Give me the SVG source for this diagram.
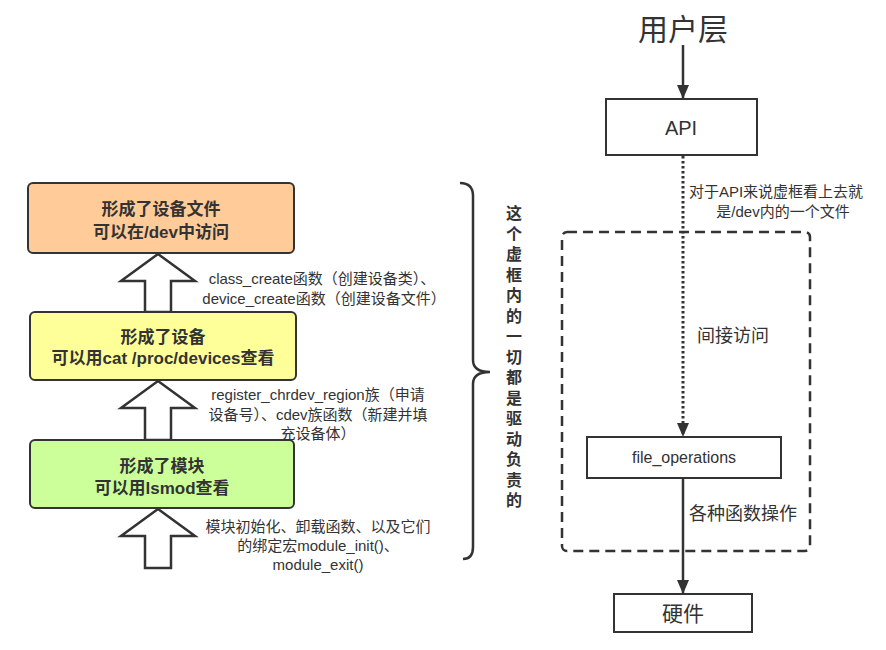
<svg xmlns="http://www.w3.org/2000/svg" width="886" height="650" viewBox="0 0 886 650">
<style>
text{font-family:"Liberation Sans","Noto Sans CJK SC",sans-serif;fill:#333}
.bt{font-size:17px;font-weight:bold;text-anchor:middle}
.lb{font-size:15px;text-anchor:middle}
.node{stroke:#333;stroke-width:2}
.bar{fill:#fff;stroke:#333;stroke-width:2.5;stroke-linejoin:miter}
.rn{fill:#fff;stroke:#333;stroke-width:2}
.vt{font-size:16px;font-weight:bold;text-anchor:middle}
</style>
<defs>
<marker id="ah" markerWidth="14" markerHeight="12" refX="14" refY="6" orient="auto" markerUnits="userSpaceOnUse" viewBox="0 0 14 12">
<path d="M0,0 L14,6 L0,12 Z" fill="#333"/>
</marker>
</defs>
<rect width="886" height="650" fill="#fff"/>

<g id="connectors">
<polygon class="bar" points="158,254 195,281 171,281 171,312 145,312 145,281 121,281"/>
<polygon class="bar" points="158,381 195,408 171,408 171,440 145,440 145,408 121,408"/>
<polygon class="bar" points="158,509 195,536 171,536 171,568 145,568 145,536 121,536"/>
<path d="M460,183 Q473,183 473,196 L473,360 Q473,372 490,372 Q473,372 473,384 L473,547 Q473,559 463,559" fill="none" stroke="#333" stroke-width="2.5"/>
<line x1="683" y1="45" x2="683" y2="99" stroke="#333" stroke-width="2.5" marker-end="url(#ah)"/>
<line x1="683" y1="156" x2="683" y2="437" stroke="#333" stroke-width="3" stroke-dasharray="2.5,2.5" marker-end="url(#ah)"/>
<line x1="683" y1="479" x2="683" y2="594" stroke="#333" stroke-width="2.5" marker-end="url(#ah)"/>
<rect x="562" y="232" width="248" height="319" rx="5" fill="none" stroke="#333" stroke-width="2.5" stroke-dasharray="10,6"/>
</g>

<g id="labels">
<text class="lb" x="322" y="284">class_create函数（创建设备类）、</text>
<text class="lb" x="324" y="304">device_create函数（创建设备文件）</text>
<text class="lb" x="318" y="400">register_chrdev_region族（申请</text>
<text class="lb" x="318" y="420">设备号）、cdev族函数（新建并填</text>
<text class="lb" x="318" y="439">充设备体）</text>
<text class="lb" x="318" y="532">模块初始化、卸载函数、以及它们</text>
<text class="lb" x="318" y="551">的绑定宏module_init()、</text>
<text class="lb" x="318" y="570">module_exit()</text>
<text class="lb" x="776" y="197">对于API来说虚框看上去就</text>
<text class="lb" x="783" y="217">是/dev内的一个文件</text>
<text x="697" y="342" style="font-size:18px">间接访问</text>
<text x="689" y="520" style="font-size:18px">各种函数操作</text>
</g>

<g id="driver-note">
<text class="vt" x="514" y="219">这</text>
<text class="vt" x="514" y="240">个</text>
<text class="vt" x="514" y="260">虚</text>
<text class="vt" x="514" y="281">框</text>
<text class="vt" x="514" y="301">内</text>
<text class="vt" x="514" y="322">的</text>
<text class="vt" x="514" y="342">一</text>
<text class="vt" x="514" y="363">切</text>
<text class="vt" x="514" y="383">都</text>
<text class="vt" x="514" y="404">是</text>
<text class="vt" x="514" y="424">驱</text>
<text class="vt" x="514" y="445">动</text>
<text class="vt" x="514" y="465">负</text>
<text class="vt" x="514" y="486">责</text>
<text class="vt" x="514" y="506">的</text>
</g>

<g id="node-file">
<rect class="node" x="28" y="183" width="266" height="70" rx="5" fill="#FFCC99"/>
<text class="bt" x="161" y="215">形成了设备文件</text>
<text class="bt" x="161" y="238">可以在/dev中访问</text>
</g>
<g id="node-device">
<rect class="node" x="30" y="312" width="266" height="68" rx="5" fill="#FFFF99"/>
<text class="bt" x="163" y="343">形成了设备</text>
<text class="bt" x="163" y="364">可以用cat /proc/devices查看</text>
</g>
<g id="node-module">
<rect class="node" x="30" y="440" width="264" height="68" rx="5" fill="#CCFF99"/>
<text class="bt" x="162" y="472">形成了模块</text>
<text class="bt" x="162" y="494">可以用lsmod查看</text>
</g>

<g id="node-user">
<text x="683" y="40" style="font-size:30px;text-anchor:middle">用户层</text>
</g>
<g id="node-api">
<rect class="rn" x="606" y="99" width="151" height="56"/>
<text x="681" y="135" style="font-size:20px;text-anchor:middle">API</text>
</g>
<g id="node-fops">
<rect class="rn" x="587" y="437" width="194" height="41"/>
<text x="684" y="463" style="font-size:16px;text-anchor:middle">file_operations</text>
</g>
<g id="node-hw">
<rect class="rn" x="614" y="594" width="138" height="38"/>
<text x="683" y="621" style="font-size:21px;text-anchor:middle">硬件</text>
</g>
</svg>
